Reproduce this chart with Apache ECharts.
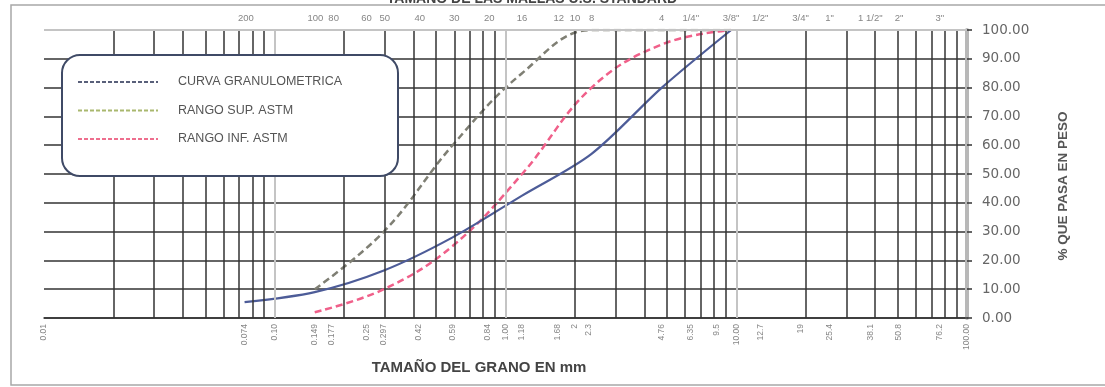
<!DOCTYPE html>
<html>
<head>
<meta charset="utf-8">
<script src="https://cdn.jsdelivr.net/npm/echarts@6/dist/echarts.min.js"></script>
<style>
  html, body { margin: 0; padding: 0; background: #fff; }
  #chart { width: 1105px; height: 387px; }
</style>
</head>
<body>
<div id="chart"></div>
<script>
// abertura de tamiz (mm) de la muestra
const sizesMm = [0.074, 0.149, 0.297, 0.59, 1.18, 2.36, 4.76, 9.5]
const curvaGranulometrica = [5.5, 9, 16.5, 28, 42.5, 57, 80, 100]

// limites ASTM
const astmMm = [0.149, 0.297, 0.59, 1.18, 2.36, 4.76, 9.5]
const rangoSup = [10, 30, 60, 85, 100, 100, 100]
const rangoInf = [2, 10, 25, 50, 80, 95, 100]

// etiquetas eje inferior (mm)
const bottomLabels = ["0.01", "0.074", "0.10", "0.149", "0.177", "0.25", "0.297", "0.42", "0.59", "0.84",
    "1.00", "1.18", "1.68", "2", "2.3", "4.76", "6.35", "9.5", "10.00", "12.7", "19", "25.4", "38.1",
    "50.8", "76.2", "100.00"]

// mallas U.S. Standard (eje superior)
const sieveNames = ["200", "100", "80", "60", "50", "40", "30", "20", "16", "12", "10", "8", "4",
    '1/4"', '3/8"', '1/2"', '3/4"', '1"', '1 1/2"', '2"', '3"']
const sieveMm = [0.075, 0.15, 0.18, 0.25, 0.3, 0.425, 0.6, 0.85, 1.18, 1.7, 2.0, 2.36, 4.75,
    6.35, 9.5, 12.7, 19.0, 25.4, 38.1, 50.8, 76.2]

const legendNames = ["CURVA GRANULOMETRICA", "RANGO SUP. ASTM", "RANGO INF. ASTM"]
const legendColors = ["#59607a", "#a9b86e", "#ee6f8e"]

const pair = (xs, ys) => xs.map((x, i) => [x, ys[i]])

// lineas verticales del papel semilogaritmico
const vLines = []
for (let d = 0.01; d < 50; d *= 10) {
    for (let k = 1; k <= 9; k++) {
        const v = +(d * k).toPrecision(3)
        if (v === 0.01) continue
        const decade = k === 1
        vLines.push({
            xAxis: v,
            lineStyle: { color: decade ? "#c4c4c4" : "#333", width: decade ? 2 : 1.5, type: "solid" },
        })
    }
}

const chart = echarts.init(document.getElementById("chart"))

const font = "Liberation Sans, Arial, sans-serif"

const legendItems = [
    {
        type: "rect",
        z: 100,
        shape: { x: 62, y: 55, width: 336, height: 121, r: 18 },
        style: { fill: "#fff", stroke: "#3f4a66", lineWidth: 2 },
    },
]
legendNames.forEach((name, i) => {
    const y = 82 + i * 28.5
    legendItems.push({
        type: "line",
        z: 101,
        shape: { x1: 78, y1: y, x2: 158, y2: y },
        style: { stroke: legendColors[i], lineWidth: 2, lineDash: [4, 2] },
    })
    legendItems.push({
        type: "text",
        z: 101,
        x: 178,
        y: y,
        style: { text: name, fill: "#555", font: "12.5px " + font, textVerticalAlign: "middle" },
    })
})

const option = {
    backgroundColor: "#fff",
    animation: false,
    grid: { left: 44, right: 138, top: 30, bottom: 69 },
    xAxis: {
        type: "log",
        logBase: 10,
        min: 0.01,
        max: 100,
        axisLabel: { show: false },
        axisTick: { show: false },
        splitLine: { show: false },
        minorSplitLine: { show: false },
        axisLine: { show: true, lineStyle: { color: "#333", width: 1.5 } },
    },
    yAxis: {
        type: "value",
        position: "right",
        min: 0,
        max: 100,
        interval: 10,
        axisLine: { show: true, lineStyle: { color: "#b8b8b8", width: 4 } },
        axisTick: { show: true, length: 5, lineStyle: { color: "#333", width: 1.5 } },
        axisLabel: {
            margin: 15,
            color: "#666",
            fontSize: 13.5,
            fontFamily: "DejaVu Sans",
            formatter: (v) => v.toFixed(2),
        },
        splitLine: { show: true, lineStyle: { color: "#333", width: 1.5 } },
    },
    series: [
        {
            // malla superior + cuadricula
            type: "scatter",
            z: 1,
            silent: true,
            symbolSize: 0,
            data: sieveMm.map((v, i) => ({ value: [v, 100], name: sieveNames[i] })),
            label: {
                show: true,
                position: "top",
                distance: 7,
                formatter: (p) => p.name,
                color: "#666",
                fontSize: 9.5,
                fontFamily: font,
            },
            markLine: {
                silent: true,
                symbol: "none",
                label: { show: false },
                animation: false,
                data: vLines.concat([
                    { yAxis: 100, lineStyle: { color: "#c4c4c4", width: 2, type: "solid" } },
                ]),
            },
        },
        {
            // etiquetas en mm
            type: "scatter",
            z: 1,
            silent: true,
            symbolSize: 0,
            data: bottomLabels.map((s) => ({
                value: [parseFloat(s), 0],
                name: s,
                label: s === "9.5" ? { offset: [0, -14] } : undefined,
            })),
            label: {
                show: true,
                position: "bottom",
                distance: 6,
                rotate: 90,
                align: "right",
                verticalAlign: "middle",
                formatter: (p) => p.name,
                color: "#666",
                fontSize: 8.5,
                fontFamily: font,
            },
        },
        {
            name: "RANGO SUP. ASTM",
            type: "line",
            z: 3,
            smooth: 0.4,
            showSymbol: false,
            data: pair(astmMm, rangoSup),
            lineStyle: { color: "#7f7f74", width: 2.5, type: [7, 4] },
        },
        {
            name: "RANGO INF. ASTM",
            type: "line",
            z: 3,
            smooth: 0.4,
            showSymbol: false,
            data: pair(astmMm, rangoInf),
            lineStyle: { color: "#f0608a", width: 2.5, type: [7, 4] },
        },
        {
            name: "CURVA GRANULOMETRICA",
            type: "line",
            z: 4,
            smooth: 0.3,
            showSymbol: false,
            data: pair(sizesMm, curvaGranulometrica),
            lineStyle: { color: "#4d5c98", width: 2.2 },
        },
    ],
    graphic: [
        {
            type: "rect",
            z: 0,
            silent: true,
            shape: { x: 11, y: 5, width: 1110, height: 380 },
            style: { fill: null, stroke: "#a8a8a8", lineWidth: 1.5 },
        },
        {
            type: "text",
            x: 532,
            y: -1,
            silent: true,
            style: {
                text: "TAMAÑO DE LAS MALLAS U.S. STANDARD",
                fill: "#444",
                font: "bold 14px " + font,
                textAlign: "center",
                textVerticalAlign: "middle",
            },
        },
        {
            type: "group",
            silent: true,
            children: legendItems,
        },
        {
            type: "text",
            x: 479,
            y: 368,
            silent: true,
            style: {
                text: "TAMAÑO DEL GRANO EN mm",
                fill: "#444",
                font: "bold 15px " + font,
                textAlign: "center",
                textVerticalAlign: "middle",
            },
        },
        {
            type: "text",
            x: 1063,
            y: 186,
            rotation: Math.PI / 2,
            silent: true,
            style: {
                text: "% QUE PASA EN PESO",
                fill: "#555",
                font: "bold 13.5px " + font,
                textAlign: "center",
                textVerticalAlign: "middle",
            },
        },
    ],
}

chart.setOption(option)
</script>
</body>
</html>
